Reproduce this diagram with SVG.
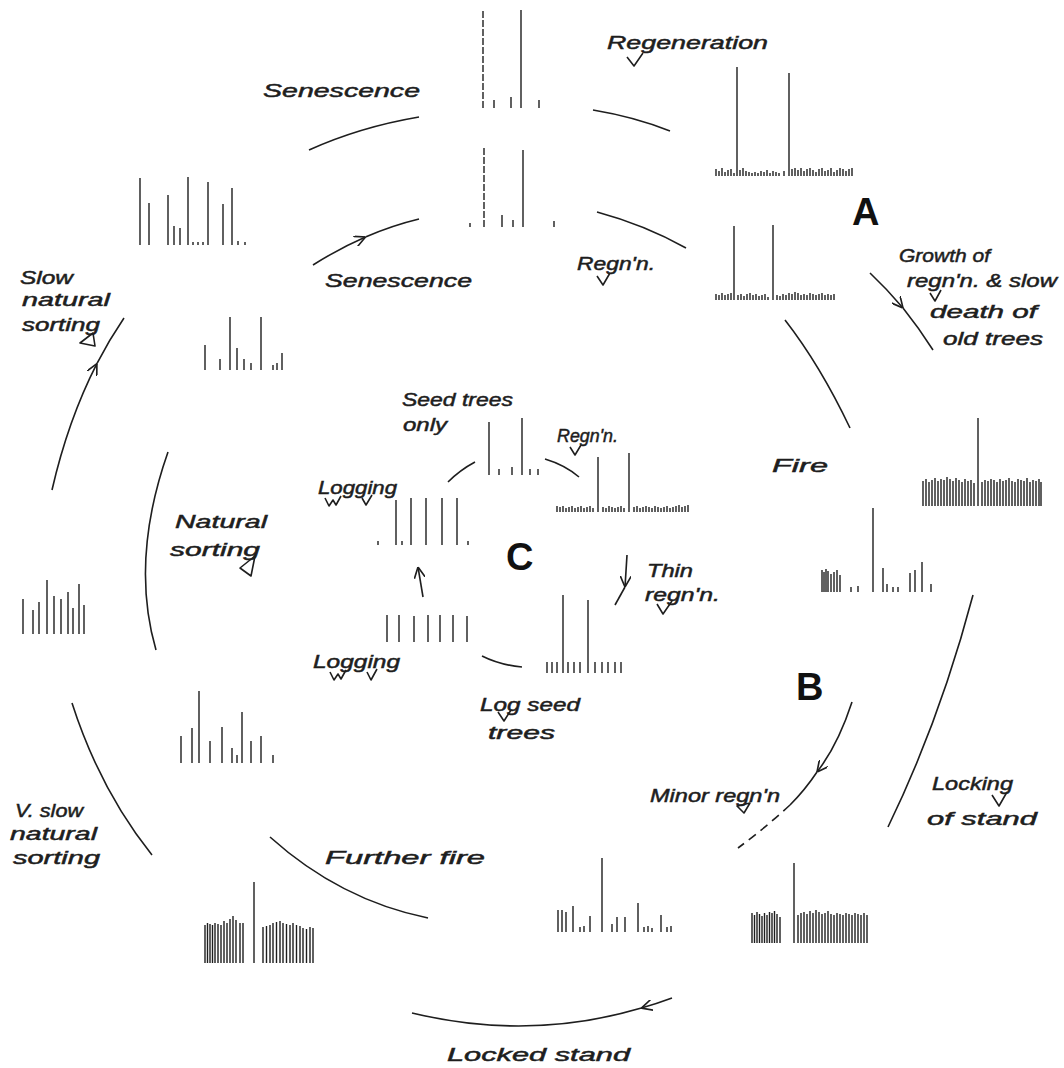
<svg xmlns="http://www.w3.org/2000/svg" width="1064" height="1068" viewBox="0 0 1064 1068">
<style>
.bar{stroke:#1e1e1e;stroke-width:1.4;fill:none}
.arc{stroke:#1e1e1e;stroke-width:1.6;fill:none}
.tk{stroke:#1e1e1e;stroke-width:1.6;fill:none;stroke-linejoin:round}
.lbl{font-family:"Liberation Sans",Arial,sans-serif;font-style:italic;font-size:19px;fill:#1e1e1e;stroke:#1e1e1e;stroke-width:0.5}
.big{font-family:"Liberation Sans",Arial,sans-serif;font-weight:bold;font-size:38px;fill:#111}
</style>
<defs>
<marker id="chev" viewBox="0 0 10 10" refX="10" refY="5" markerWidth="11" markerHeight="11" markerUnits="userSpaceOnUse" orient="auto">
<path d="M0,0 L10,5 L0,10" fill="none" stroke="#1e1e1e" stroke-width="1.5"/>
</marker>
</defs>
<rect width="1064" height="1068" fill="#fff"/>

<g id="connectors">
<path class="arc" d="M309,150 Q360,127 419,117"/>
<path class="arc" d="M593,110 Q635,117 670,131"/>
<path class="arc" d="M313,265 Q339,248.5 365.5,237" marker-end="url(#chev)"/>
<path class="arc" d="M365.5,237 Q392,225.5 419,219"/>
<path class="arc" d="M597,212 Q645,225 686,248"/>
<path class="arc" d="M870,273 Q887,289 903,308" marker-end="url(#chev)"/>
<path class="arc" d="M903,308 Q919,328 933,350"/>
<path class="arc" d="M785,320 Q820,365 850,428"/>
<path class="arc" d="M973,595 Q940,720 888,827"/>
<path class="arc" d="M852,702 Q838,745 817,772" marker-end="url(#chev)"/>
<path class="arc" d="M817,772 Q805,790 790,805"/>
<path class="arc" d="M790,805 Q765,828 738,848" stroke-dasharray="9,6"/>
<path class="arc" d="M672,998 Q656.8,1003.6 641.4,1008.1" marker-end="url(#chev)"/>
<path class="arc" d="M641.4,1008.1 Q529,1041.2 412,1013"/>
<path class="arc" d="M270,837 Q340,900 428,918"/>
<path class="arc" d="M72,703 Q100,790 152,855"/>
<path class="arc" d="M168,452 Q130,560 156,650"/>
<path class="arc" d="M52,490 Q68.1,420 96.9,363.7" marker-end="url(#chev)"/>
<path class="arc" d="M96.9,363.7 Q109.3,339.6 124,318"/>
<path class="arc" d="M448,482 Q460,470 475,462"/>
<path class="arc" d="M545,459 Q565,465 579,477"/>
<path class="arc" d="M482,656 Q500,665 522,667"/>
<path class="arc" d="M423,597 L418,567" marker-end="url(#chev)"/>
<path class="arc" d="M627,555 L625,587" marker-end="url(#chev)"/>
<path class="arc" d="M625,587 L615,605"/>
</g>

<g id="n-top">
<path class="bar" d="M483,108V10" stroke-dasharray="7,2"/>
<path class="bar" d="M521,108V10 M494,108v-8 M511,108v-11 M539,108v-8"/>
</g>
<g id="n-senescence2">
<path class="bar" d="M484,227V147" stroke-dasharray="7,2"/>
<path class="bar" d="M523,227V150 M470,227v-4 M502,227v-12 M513,227v-7 M554,227v-6"/>
</g>
<g id="n-regeneration">
<path class="bar" d="M737,176V67 M789,176V73"/>
<path class="bar" stroke-width="1.1" d="M716,176v-7M719,176v-5M722,176v-8M725,176v-4M728,176v-6M731,176v-7M734,176v-3M740,176v-6M743,176v-8M746,176v-5M749,176v-4M752,176v-3M755,176v-4M758,176v-3M761,176v-5M764,176v-4M767,176v-6M770,176v-3M773,176v-5M776,176v-4M779,176v-3M784,176v-5M792,176v-7M795,176v-8M798,176v-6M801,176v-8M804,176v-5M807,176v-7M810,176v-8M813,176v-6M816,176v-4M819,176v-7M822,176v-8M825,176v-5M828,176v-6M831,176v-8M834,176v-4M837,176v-6M840,176v-8M843,176v-7M846,176v-5M849,176v-7M852,176v-8"/>
</g>
<g id="n-regnn-a">
<path class="bar" d="M734,300V226 M773,300V225"/>
<path class="bar" stroke-width="1.1" d="M716,300v-6M719,300v-5M722,300v-7M725,300v-5M728,300v-6M731,300v-7M738,300v-5M741,300v-6M744,300v-4M747,300v-6M750,300v-7M753,300v-5M756,300v-6M759,300v-4M762,300v-5M765,300v-6M768,300v-3M777,300v-5M780,300v-4M783,300v-6M786,300v-5M789,300v-7M792,300v-6M795,300v-8M798,300v-7M801,300v-5M804,300v-6M807,300v-5M810,300v-7M813,300v-6M816,300v-5M819,300v-6M822,300v-7M825,300v-5M828,300v-6M831,300v-5M834,300v-6"/>
</g>
<g id="n-growth">
<path class="bar" d="M978,506V418"/>
<path class="bar" stroke-width="1.5" d="M923,506v-25M926,506v-27M929,506v-24M932,506v-26M935,506v-28M938,506v-25M941,506v-27M944,506v-26M947,506v-29M950,506v-27M953,506v-25M956,506v-28M959,506v-26M962,506v-24M965,506v-27M968,506v-25M971,506v-26M974,506v-23M982,506v-24M985,506v-26M988,506v-25M991,506v-27M994,506v-26M997,506v-24M1000,506v-27M1003,506v-25M1006,506v-26M1009,506v-28M1012,506v-25M1015,506v-24M1018,506v-27M1021,506v-26M1024,506v-25M1027,506v-28M1030,506v-24M1033,506v-26M1036,506v-25M1039,506v-27M1041,506v-24"/>
</g>
<g id="n-fire">
<path class="bar" d="M822,592v-22M824,592v-20M826,592v-23M828,592v-21M831,592v-18M834,592v-20M837,592v-22M840,592v-17M851,592v-5M858,592v-6M873,592v-84M883,592v-24M887,592v-8M893,592v-5M898,592v-5M910,592v-19M915,592v-22M922,592v-30M931,592v-8"/>
</g>
<g id="n-locked">
<path class="bar" d="M794,943V863"/>
<path class="bar" stroke-width="1.4" d="M752,943v-30M754.5,943v-28M757,943v-31M759.5,943v-29M762,943v-27M764.5,943v-30M767,943v-28M769.5,943v-31M772,943v-30M774.5,943v-32M777,943v-29M780,943v-26M798,943v-28M801,943v-30M804,943v-31M807,943v-29M810,943v-32M813,943v-30M816,943v-33M819,943v-31M822,943v-29M825,943v-30M828,943v-32M831,943v-29M834,943v-28M837,943v-30M840,943v-29M843,943v-28M846,943v-30M849,943v-29M852,943v-28M855,943v-30M858,943v-29M861,943v-28M864,943v-30M867,943v-28"/>
</g>
<g id="n-minor">
<path class="bar" d="M558,932v-22M562,932v-22M566,932v-20M573,932v-26M580,932v-5M584,932v-6M590,932v-16M602,932v-74M612,932v-8M617,932v-15M625,932v-15M638,932v-29M644,932v-5M648,932v-6M652,932v-4M661,932v-17M667,932v-5M671,932v-6"/>
</g>
<g id="n-further">
<path class="bar" d="M254,963V882"/>
<path class="bar" stroke-width="1.4" d="M205,963v-38M207.5,963v-40M210,963v-39M212.5,963v-38M215,963v-40M218,963v-39M221,963v-38M224,963v-42M227,963v-40M230,963v-44M233,963v-47M236,963v-43M240,963v-40M243,963v-40M263,963v-36M266.5,963v-37M270,963v-38M273,963v-40M276.5,963v-41M280,963v-42M283,963v-40M286.5,963v-39M290,963v-38M293,963v-40M296.5,963v-38M300,963v-37M303,963v-35M306.5,963v-34M310,963v-36M313,963v-35"/>
</g>
<g id="n-left">
<path class="bar" d="M23,634V599M33,634V610M39,634V602M47,634V580M54,634V596M61,634V599M68,634V592M73,634V608M79,634V584M84,634V605"/>
</g>
<g id="n-lowerleft">
<path class="bar" d="M181,763V736M192,763V728M199,763V691M210,763V741M222,763V727M232,763V748M237,763V755M242,763V712M251,763V741M261,763V736M273,763V755"/>
</g>
<g id="n-topleft">
<path class="bar" d="M140,245V178M149,245V203M168,245V195M174,245V226M180,245V228M188,245V177M193,245v-3M198,245v-3M203,245v-3M208,245V182M223,245V204M232,245V188M238,245v-4M245,245v-3"/>
</g>
<g id="n-small">
<path class="bar" d="M205,370V345M220,370V359M230,370V317M237,370V348M244,370V359M251,370V363M261,370V317M273,370v-5M277,370v-7M282,370V353"/>
</g>
<g id="n-seed">
<path class="bar" d="M489,475V422M522,475V418M499,475v-6M512,475v-8M530,475v-6M538,475v-6"/>
</g>
<g id="n-regnn-c">
<path class="bar" d="M598,512V457M629,512V453"/>
<path class="bar" stroke-width="1.1" d="M557,512v-6M560,512v-5M563,512v-6M566,512v-4M569,512v-5M572,512v-6M575,512v-4M578,512v-5M581,512v-6M584,512v-4M587,512v-5M590,512v-6M593,512v-4M603,512v-5M606,512v-4M609,512v-6M612,512v-5M615,512v-4M618,512v-5M621,512v-6M624,512v-4M634,512v-5M637,512v-6M640,512v-4M643,512v-5M646,512v-6M649,512v-5M652,512v-4M655,512v-6M658,512v-5M661,512v-4M664,512v-5M667,512v-6M670,512v-4M673,512v-5M676,512v-6M679,512v-7M682,512v-5M685,512v-6M688,512v-7"/>
</g>
<g id="n-logging1">
<path class="bar" d="M378,545v-4M396,545V500M402,545v-4M411,545V498M426,545V498M442,545V498M457,545V498M468,545v-4"/>
</g>
<g id="n-logging2">
<path class="bar" d="M387,642V615M399,642V615M414,642V616M428,642V615M440,642V615M453,642V615M467,642V616"/>
</g>
<g id="n-thin">
<path class="bar" d="M563,673V595M588,673V600M547,673v-11M552,673v-11M557,673v-11M568,673v-11M574,673v-11M580,673v-11M595,673v-11M602,673v-11M608,673v-11M615,673v-11M621,673v-11"/>
</g>

<g id="ticks">
<path class="tk" d="M627,57 l7,9 l9,-13"/>
<path class="tk" d="M597,276 l6,9 l7,-12"/>
<path class="tk" d="M930,293 l5,8 l6,-11"/>
<path class="tk" d="M93,333 L80,343 L95,346 Z"/>
<path class="tk" d="M255,556 L240,568 L251,576 Z"/>
<path class="tk" d="M570,447 l5,8 l6,-10"/>
<path class="tk" d="M325,498 l4,8 l4,-6 l3,5 l5,-9"/>
<path class="tk" d="M362,498 l4,7 l6,-10"/>
<path class="tk" d="M330,672 l4,8 l4,-6 l3,5 l5,-9"/>
<path class="tk" d="M367,672 l4,8 l6,-11"/>
<path class="tk" d="M657,604 l6,10 l9,-13"/>
<path class="tk" d="M498,712 l6,9 l7,-11"/>
<path class="tk" d="M750,803 L737,806 L744,813 Z"/>
<path class="tk" d="M992,795 l7,11 l8,-14"/>
</g>

<g id="labels">
<text class="lbl" x="263" y="97" textLength="157" lengthAdjust="spacingAndGlyphs">Senescence</text>
<text class="lbl" x="607" y="49" textLength="161" lengthAdjust="spacingAndGlyphs">Regeneration</text>
<text class="lbl" x="325" y="287" textLength="147" lengthAdjust="spacingAndGlyphs">Senescence</text>
<text class="lbl" x="577" y="270" textLength="78" lengthAdjust="spacingAndGlyphs">Regn'n.</text>
<text class="lbl" x="899" y="262" textLength="91" lengthAdjust="spacingAndGlyphs">Growth of</text>
<text class="lbl" x="907" y="287" textLength="150" lengthAdjust="spacingAndGlyphs">regn'n. &amp; slow</text>
<text class="lbl" x="930" y="318" textLength="107" lengthAdjust="spacingAndGlyphs">death of</text>
<text class="lbl" x="943" y="345" textLength="100" lengthAdjust="spacingAndGlyphs">old trees</text>
<text class="lbl" x="20" y="284" textLength="53" lengthAdjust="spacingAndGlyphs">Slow</text>
<text class="lbl" x="22" y="306" textLength="88" lengthAdjust="spacingAndGlyphs">natural</text>
<text class="lbl" x="22" y="331" textLength="78" lengthAdjust="spacingAndGlyphs">sorting</text>
<text class="lbl" x="175" y="528" textLength="92" lengthAdjust="spacingAndGlyphs">Natural</text>
<text class="lbl" x="170" y="556" textLength="90" lengthAdjust="spacingAndGlyphs">sorting</text>
<text class="lbl" x="402" y="406" textLength="111" lengthAdjust="spacingAndGlyphs">Seed trees</text>
<text class="lbl" x="403" y="431" textLength="44" lengthAdjust="spacingAndGlyphs">only</text>
<text class="lbl" x="557" y="442" textLength="61" lengthAdjust="spacingAndGlyphs">Regn'n.</text>
<text class="lbl" x="318" y="494" textLength="79" lengthAdjust="spacingAndGlyphs">Logging</text>
<text class="lbl" x="313" y="668" textLength="87" lengthAdjust="spacingAndGlyphs">Logging</text>
<text class="lbl" x="647" y="577" textLength="46" lengthAdjust="spacingAndGlyphs">Thin</text>
<text class="lbl" x="645" y="601" textLength="75" lengthAdjust="spacingAndGlyphs">regn'n.</text>
<text class="lbl" x="480" y="711" textLength="100" lengthAdjust="spacingAndGlyphs">Log seed</text>
<text class="lbl" x="488" y="739" textLength="67" lengthAdjust="spacingAndGlyphs">trees</text>
<text class="lbl" x="772" y="472" textLength="56" lengthAdjust="spacingAndGlyphs">Fire</text>
<text class="lbl" x="650" y="802" textLength="130" lengthAdjust="spacingAndGlyphs">Minor regn'n</text>
<text class="lbl" x="932" y="790" textLength="81" lengthAdjust="spacingAndGlyphs">Locking</text>
<text class="lbl" x="927" y="825" textLength="110" lengthAdjust="spacingAndGlyphs">of stand</text>
<text class="lbl" x="325" y="864" textLength="160" lengthAdjust="spacingAndGlyphs">Further fire</text>
<text class="lbl" x="447" y="1061" textLength="183" lengthAdjust="spacingAndGlyphs">Locked stand</text>
<text class="lbl" x="15" y="817" textLength="68" lengthAdjust="spacingAndGlyphs">V. slow</text>
<text class="lbl" x="10" y="840" textLength="87" lengthAdjust="spacingAndGlyphs">natural</text>
<text class="lbl" x="13" y="864" textLength="87" lengthAdjust="spacingAndGlyphs">sorting</text>
</g>

<g id="section-letters">
<text class="big" x="852" y="225">A</text>
<text class="big" x="796" y="700">B</text>
<text class="big" x="506" y="570">C</text>
</g>
</svg>
